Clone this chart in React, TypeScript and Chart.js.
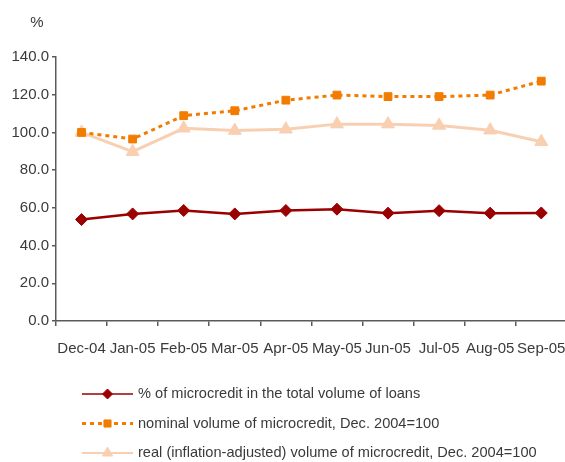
import React, { useEffect, useRef } from "react";
import { Chart, registerables } from "chart.js";
import { drawPoint } from "chart.js/helpers";

Chart.register(...registerables);

const categories = ["Dec-04", "Jan-05", "Feb-05", "Mar-05", "Apr-05", "May-05", "Jun-05", "Jul-05", "Aug-05", "Sep-05"];
const shareOfLoans = [53.8, 56.8, 58.6, 56.8, 58.6, 59.3, 57.2, 58.5, 57.2, 57.3];
const nominalVolume = [100, 96.5, 108.9, 111.5, 117.1, 119.8, 119.0, 119.0, 119.8, 127.2];
const realVolume = [100, 89.8, 102.2, 101.0, 101.7, 104.4, 104.4, 103.7, 101.2, 95.1];
const seriesLabels = [
  "% of microcredit in the total volume of loans",
  "nominal volume of microcredit, Dec. 2004=100",
  "real (inflation-adjusted) volume of microcredit, Dec. 2004=100",
];
const unitLabel = "%";

const FONT = '"Liberation Sans", Arial, Helvetica, sans-serif';
const TEXT = "#3a3a3a";
const AXIS = "#5a5a5a";
const RED = "#9a0000";
const ORANGE = "#f27c00";
const PEACH = "#f9cfb2";

const legendPlugin = {
  id: "customLegend",
  afterDraw(chart: any) {
    const ctx = chart.ctx as CanvasRenderingContext2D;
    ctx.save();
    ctx.fillStyle = TEXT;
    ctx.font = `15px ${FONT}`;
    ctx.textAlign = "center";
    ctx.textBaseline = "middle";
    ctx.fillText(unitLabel, 37, 23);

    const y0 = 394;
    const step = 29.5;
    const x0 = 82;
    const x1 = 133;
    chart.data.datasets.forEach((ds: any, i: number) => {
      const y = y0 + i * step;
      ctx.save();
      ctx.strokeStyle = ds.borderColor;
      ctx.lineWidth = ds.legendLineWidth;
      ctx.setLineDash(ds.borderDash || []);
      ctx.beginPath();
      ctx.moveTo(x0, y);
      ctx.lineTo(x1, y);
      ctx.stroke();
      ctx.setLineDash([]);
      ctx.fillStyle = ds.pointBackgroundColor;
      ctx.strokeStyle = ds.pointBorderColor;
      ctx.lineWidth = 1;
      drawPoint(ctx, { pointStyle: ds.pointStyle, radius: ds.legendPointRadius, borderWidth: 1, rotation: 0 }, (x0 + x1) / 2, y);
      ctx.restore();
      ctx.fillStyle = TEXT;
      ctx.font = `14.6px ${FONT}`;
      ctx.textAlign = "left";
      ctx.textBaseline = "middle";
      ctx.fillText(ds.label, 138, y);
    });
    ctx.restore();
  },
};

export default function App() {
  const ref = useRef<HTMLCanvasElement | null>(null);
  useEffect(() => {
    document.body.style.margin = "0";
    const canvas = ref.current;
    if (!canvas) return;
    const chart = new Chart(canvas, {
      type: "line",
      data: {
        labels: categories,
        datasets: [
          {
            label: seriesLabels[0],
            data: shareOfLoans,
            borderColor: RED,
            backgroundColor: RED,
            borderWidth: 2.5,
            pointStyle: "rectRot",
            pointRadius: 6,
            pointBackgroundColor: RED,
            pointBorderColor: RED,
            pointBorderWidth: 1,
            tension: 0,
            legendLineWidth: 1.5,
            legendPointRadius: 5,
          } as any,
          {
            label: seriesLabels[1],
            data: nominalVolume,
            borderColor: ORANGE,
            backgroundColor: ORANGE,
            borderWidth: 3,
            borderDash: [4, 4],
            pointStyle: "rect",
            pointRadius: 5.5,
            pointBackgroundColor: ORANGE,
            pointBorderColor: ORANGE,
            pointBorderWidth: 1,
            tension: 0,
            legendLineWidth: 3,
            legendPointRadius: 5,
          } as any,
          {
            label: seriesLabels[2],
            data: realVolume,
            borderColor: PEACH,
            backgroundColor: PEACH,
            borderWidth: 3,
            pointStyle: "triangle",
            pointRadius: 7.5,
            pointBackgroundColor: PEACH,
            pointBorderColor: PEACH,
            pointBorderWidth: 1,
            tension: 0,
            legendLineWidth: 2,
            legendPointRadius: 6,
          } as any,
        ],
      },
      options: {
        responsive: false,
        animation: false,
        devicePixelRatio: 1,
        layout: { padding: { top: 57, left: 0, right: 11, bottom: 105 } },
        plugins: {
          legend: { display: false },
          tooltip: { enabled: false },
        },
        scales: {
          x: {
            type: "category",
            offset: true,
            afterFit: (s: any) => {
              s.height = 36;
            },
            grid: {
              offset: true,
              drawOnChartArea: false,
              drawTicks: true,
              tickLength: 5,
              color: AXIS,
              lineWidth: 1.5,
            },
            border: { color: AXIS, width: 1.5 },
            ticks: {
              color: TEXT,
              font: { family: FONT, size: 15 },
              padding: 14,
              maxRotation: 0,
              autoSkip: false,
            },
          },
          y: {
            min: 0,
            max: 140,
            afterFit: (s: any) => {
              s.width = 56;
            },
            grid: {
              drawOnChartArea: false,
              drawTicks: true,
              tickLength: 4,
              color: AXIS,
              lineWidth: 1.5,
            },
            border: { color: AXIS, width: 1.5 },
            ticks: {
              stepSize: 20,
              color: TEXT,
              font: { family: FONT, size: 15 },
              padding: 3,
              callback: (v: any) => Number(v).toFixed(1),
            },
          },
        },
      },
      plugins: [legendPlugin],
    });
    return () => chart.destroy();
  }, []);

  return (
    <div style={{ position: "relative", width: 565, height: 462, overflow: "hidden" }}>
      <canvas ref={ref} width={580} height={462} style={{ display: "block", width: 580, height: 462 }} />
    </div>
  );
}
